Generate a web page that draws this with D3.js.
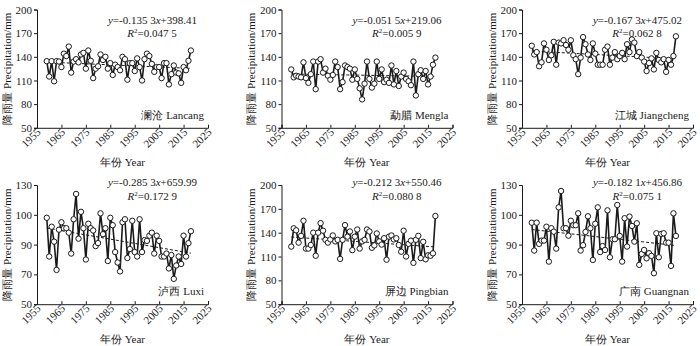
<!DOCTYPE html>
<html>
<head>
<meta charset="utf-8">
<script src="https://cdn.jsdelivr.net/npm/d3@7"></script>
<style>
  html, body { margin: 0; padding: 0; background: #fff; }
  svg { display: block; font-family: "Liberation Serif", "Times New Roman", serif; }
</style>
</head>
<body>
<div class="container"></div>
<script>
const W = 700;
const H = 346;
const firstYear = 1959;
const lastYear = 2018;
const xTicks = [1955, 1965, 1975, 1985, 1995, 2005, 2015, 2025];

// annual precipitation, mm
const lancang = [134.5, 115, 134.5, 109, 134.5, 134, 127, 144, 141, 153,
    120, 134, 137, 133, 143, 145, 125, 148, 135, 113,
    125, 128, 143, 136, 140, 125, 132, 117, 130, 127,
    123, 140, 137, 111, 132, 132, 122, 138, 127, 110,
    137, 144, 141, 131, 121, 127, 127, 113, 132, 132,
    105, 118, 129, 120, 119, 107, 127, 123, 135, 148];
const mengla = [124, 114, 116, 115, 114, 133, 113, 107, 118, 134,
    99, 134, 137, 120, 125, 116, 111, 117, 134, 127,
    99, 108, 129, 127, 125, 111, 124, 112, 100, 86,
    106, 134, 112, 101, 106, 134, 112, 124, 108, 111,
    107, 129, 105, 122, 103, 115, 120, 112, 109, 104,
    134, 91, 118, 123, 112, 122, 105, 115, 130, 139];
const jiangcheng = [154, 143, 146, 128, 133, 157, 149, 136, 142, 159,
    130, 158, 157, 161, 155, 149, 161, 142, 137, 118,
    139, 165, 156, 143, 136, 157, 144, 130, 130, 130,
    149, 153, 130, 139, 146, 137, 141, 145, 137, 156,
    146, 162, 158, 141, 146, 139, 134, 122, 132, 138,
    124, 145, 136, 133, 137, 121, 136, 130, 141, 166];
const luxi = [108, 82, 102, 92, 73, 100, 105, 101, 101, 98,
    84, 107, 124, 94, 112, 101, 80, 104, 101, 99.5,
    89, 91, 111, 97, 101, 79, 108, 103, 85, 78,
    72, 105, 107, 81, 87, 106, 85, 82, 107, 85,
    93, 92.5, 96, 98, 84, 96, 92.5, 82, 82, 84,
    74, 83, 67, 76, 82, 77, 96, 82, 91, 99];
const pingbian = [122.5, 145.5, 143, 127.5, 136, 155, 120, 120, 124.5, 140,
    111, 140, 152, 142.5, 131, 127.5, 131.5, 136.5, 129, 131,
    107, 131, 149.5, 135, 141.5, 118, 135, 144, 120, 129,
    131, 144, 141.5, 121, 124, 139, 129, 125, 133, 106,
    135, 136.5, 131.5, 133, 124.5, 116, 142.5, 110, 126, 130,
    102, 131, 136, 108, 128.5, 106.5, 111.5, 111, 114, 161];
const guangnan = [104.7, 86, 104.7, 90.5, 92.7, 92.7, 102, 78.6, 101, 98.7,
    87.3, 115, 126, 101, 101, 96, 106, 103, 103, 111,
    86, 89.6, 98.5, 109, 101, 79.7, 104, 115, 85, 89,
    86.4, 113, 81.5, 93.6, 93.6, 116.6, 95.8, 78.6, 107.7, 88.7,
    108.8, 102.5, 92, 104.3, 76.4, 83.7, 86.4, 80.8, 84.2, 82.4,
    70.8, 97.6, 81.5, 97.2, 97.6, 91.3, 91.3, 75.7, 111, 95.8];

const stationNames = ['澜沧 Lancang', '勐腊 Mengla', '江城 Jiangcheng', '泸西 Luxi', '屏边 Pingbian', '广南 Guangnan'];
const stationSeries = [lancang, mengla, jiangcheng, luxi, pingbian, guangnan];
const slopes = [-0.1353, -0.0515, -0.1673, -0.2853, -0.2123, -0.1821];
const intercepts = [398.41, 219.06, 475.02, 659.99, 550.46, 456.86];
const slopeLabels = ['-0.135 3', '-0.051 5', '-0.167 3', '-0.285 3', '-0.212 3', '-0.182 1'];
const interceptLabels = ['398.41', '219.06', '475.02', '659.99', '550.46', '456.86'];
const r2Labels = ['0.047 5', '0.005 9', '0.062 8', '0.172 9', '0.080 8', '0.075 1'];

const yTicksHigh = [50, 80, 110, 140, 170, 200];
const yTicksLow = [50, 70, 90, 110, 130];
const yTickLabelsLow = ['50', '70', '90', '100', '130']; // as printed in the figure
const yDomains = [[50, 200], [50, 200], [50, 200], [50, 130], [50, 200], [50, 130]];

// layout
const colLeft = [37, 281.5, 522];
const plotW = 171;
const rowTop = [9.5, 185];
const plotH = [118.3, 119.2];
const formulaDy = [10.7, -3];
const r2Dy = [23.8, 11];
const ink = '#1a1a1a';

const years = d3.range(firstYear, lastYear + 1);

const svg = d3.select('.container')
    .append('svg')
    .attr('width', W)
    .attr('height', H);

stationSeries.forEach((values, i) => {
    const row = Math.floor(i / 3);
    const col = i % 3;
    const left = colLeft[col];
    const top = rowTop[row];
    const h = plotH[row];
    const low = yDomains[i][1] === 130;

    const x = d3.scaleLinear().domain([1955, 2025]).range([left, left + plotW]);
    const y = d3.scaleLinear().domain(yDomains[i]).range([top + h, top]);

    const g = svg.append('g');

    // y axis
    const yAxis = d3.axisLeft(y)
        .tickValues(low ? yTicksLow : yTicksHigh)
        .tickSize(3)
        .tickPadding(2)
        .tickFormat((d, k) => low ? yTickLabelsLow[k] : String(d));
    const ya = g.append('g')
        .attr('transform', `translate(${left},0)`)
        .call(yAxis);
    ya.select('.domain').attr('stroke', ink);
    ya.selectAll('.tick line').attr('stroke', ink);
    ya.selectAll('.tick text')
        .attr('font-size', 11)
        .attr('fill', ink)
        .attr('font-family', '"Liberation Serif", serif');

    // x axis
    const xAxis = d3.axisBottom(x)
        .tickValues(xTicks)
        .tickSize(-3)
        .tickFormat(d3.format('d'));
    const xa = g.append('g')
        .attr('transform', `translate(0,${top + h})`)
        .call(xAxis);
    xa.select('.domain').attr('stroke', ink);
    xa.selectAll('.tick line').attr('stroke', ink);
    xa.selectAll('.tick text')
        .attr('font-size', 11)
        .attr('fill', ink)
        .attr('font-family', '"Liberation Serif", serif')
        .attr('text-anchor', 'end')
        .attr('dy', null)
        .attr('y', 0)
        .attr('transform', 'translate(4,5) rotate(-45)');

    // axis titles
    g.append('text')
        .attr('transform', `translate(${left - 30},${top + h / 2}) rotate(-90)`)
        .attr('text-anchor', 'middle')
        .attr('dy', '0.35em')
        .attr('font-size', 11)
        .attr('fill', ink)
        .text('降雨量 Precipitation/mm');
    g.append('text')
        .attr('x', left + plotW / 2)
        .attr('y', top + h + 38.5)
        .attr('text-anchor', 'middle')
        .attr('font-size', 11)
        .attr('fill', ink)
        .text('年份 Year');

    // trend line
    const trend = [years[0], years[years.length - 1]].map(yr => [yr, slopes[i] * yr + intercepts[i]]);
    g.append('path')
        .datum(trend)
        .attr('fill', 'none')
        .attr('stroke', ink)
        .attr('stroke-width', 1)
        .attr('stroke-dasharray', '3,2')
        .attr('d', d3.line().x(d => x(d[0])).y(d => y(d[1])));

    // series
    const pts = values.map((v, k) => ({ year: years[k], value: v }));
    g.append('path')
        .datum(pts)
        .attr('fill', 'none')
        .attr('stroke', ink)
        .attr('stroke-width', 1.6)
        .attr('d', d3.line().x(d => x(d.year)).y(d => y(d.value)));
    g.selectAll('.pt')
        .data(pts)
        .enter()
        .append('circle')
        .attr('class', 'pt')
        .attr('cx', d => x(d.year))
        .attr('cy', d => y(d.value))
        .attr('r', 2.7)
        .attr('fill', '#fff')
        .attr('stroke', ink)
        .attr('stroke-width', 1);

    // regression text
    const formula = g.append('text')
        .attr('x', left + plotW - 11)
        .attr('y', top + formulaDy[row] + 4)
        .attr('text-anchor', 'end')
        .attr('font-size', 11)
        .attr('fill', ink);
    formula.append('tspan').attr('font-style', 'italic').text('y');
    formula.append('tspan').text('=' + slopeLabels[i]);
    formula.append('tspan').attr('font-style', 'italic').text('x');
    formula.append('tspan').text('+' + interceptLabels[i]);
    const fb = formula.node().getBBox();

    const r2 = g.append('text')
        .attr('x', fb.x + fb.width / 2)
        .attr('y', top + r2Dy[row] + 4)
        .attr('text-anchor', 'middle')
        .attr('font-size', 11)
        .attr('fill', ink);
    r2.append('tspan').attr('font-style', 'italic').text('R');
    r2.append('tspan').attr('font-size', 7).attr('dy', -4).text('2');
    r2.append('tspan').attr('dy', 4).text('=' + r2Labels[i]);

    // station name
    g.append('text')
        .attr('x', left + plotW - 4)
        .attr('y', top + h - 9)
        .attr('text-anchor', 'end')
        .attr('font-size', 11)
        .attr('fill', ink)
        .text(stationNames[i]);
});
</script>
</body>
</html>
